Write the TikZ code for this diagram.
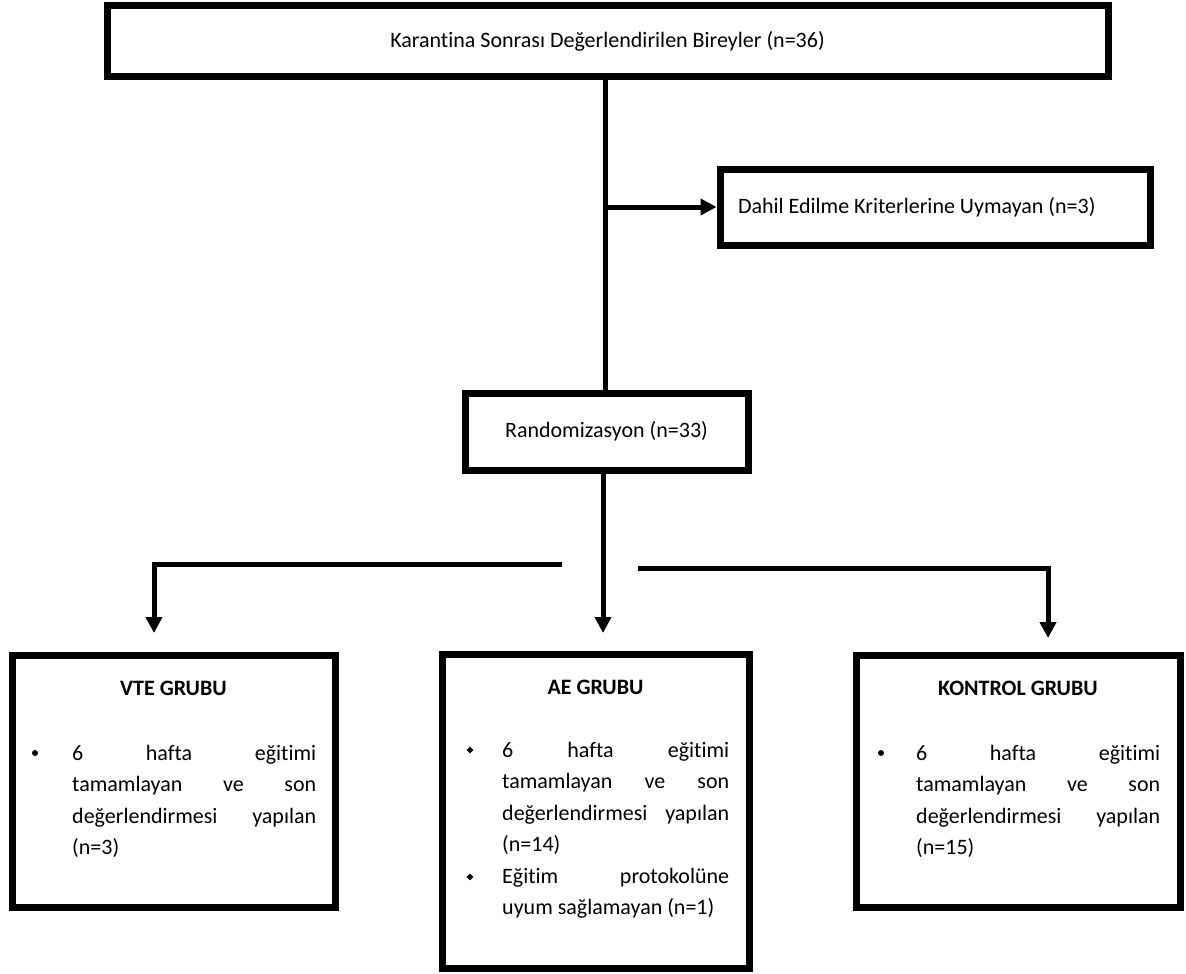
\documentclass[tikz,border=0pt]{standalone}
\usepackage{fontspec}
\setmainfont{Carlito}[Ligatures=NoCommon]
\usetikzlibrary{arrows.meta,shapes.geometric}

\tikzset{
  kutu/.style={draw, line width=7pt, inner sep=0pt, font=\fontsize{22}{31.5}\selectfont},
  cizgi/.style={line width=5pt},
  ok/.style={line width=5pt, -{Triangle[width=16pt,length=16pt]}},
  baslik/.style={font=\fontsize{22}{31.5}\selectfont\bfseries, inner sep=0pt, anchor=base},
  madde/.style={font=\fontsize{22}{31.5}\selectfont, inner sep=0pt, anchor=base west},
  nokta/.style={circle, fill, inner sep=0pt, minimum size=6pt},
  karo/.style={diamond, fill, inner sep=0pt, minimum size=7pt},
}

\begin{document}
\begin{tikzpicture}[x=1pt,y=-1pt]
        \useasboundingbox (0,0) rectangle (1186,974);
        % kutular
        \node[kutu, minimum width=1001pt, minimum height=71pt] (karantina) at (607.5,41.5) {Karantina Sonrası Değerlendirilen Bireyler (n=36)};
        \node[kutu, minimum width=430pt, minimum height=76pt, text width=394pt, inner xsep=18pt, align=flush left] (dahil) at (935,207) {Dahil Edilme Kriterlerine Uymayan (n=3)};
        \node[kutu, minimum width=283pt, minimum height=77pt] (randomizasyon) at (606.5,431.5) {Randomizasyon (n=33)};
        \node[kutu, minimum width=323pt, minimum height=252pt] (vte) at (173.5,781) {};
        \node[kutu, minimum width=307pt, minimum height=314pt] (ae) at (595.5,811) {};
        \node[kutu, minimum width=324pt, minimum height=252pt] (kontrol) at (1018,781) {};
        % gruplar
        \node[baslik] (vtebaslik) at (173.5,695) {VTE GRUBU};
        \node[nokta] (vtemadde) at (35,753) {};
        \node[madde] (vtemetin) at (72,760) {\parbox[t]{244pt}{\raggedright 6\hfill hafta\hfill eğitimi\\ tamamlayan\hfill ve\hfill son\\ değerlendirmesi\hfill yapılan\\ (n=3)}};
        \node[baslik] (aebaslik) at (595.5,694) {AE GRUBU};
        \node[karo] (aemadde1) at (470,750) {};
        \node[karo] (aemadde2) at (470,877) {};
        \node[madde] (aemetin) at (502,757) {\parbox[t]{227pt}{\raggedright 6\hfill hafta\hfill eğitimi\\ tamamlayan\hfill ve\hfill son\\ değerlendirmesi\hfill yapılan\\ (n=14)\\ Eğitim\hfill protokolüne\\ uyum sağlamayan (n=1)}};
        \node[baslik] (kontrolbaslik) at (1018,695) {KONTROL GRUBU};
        \node[nokta] (kontrolmadde) at (881,753) {};
        \node[madde] (kontrolmetin) at (916,760) {\parbox[t]{244pt}{\raggedright 6\hfill hafta\hfill eğitimi\\ tamamlayan\hfill ve\hfill son\\ değerlendirmesi\hfill yapılan\\ (n=15)}};
        % oklar
        \coordinate (dal) at (605,207);
        \coordinate (orta) at (603,600);
        \coordinate (solbas) at (562,564);
        \coordinate (solkose) at (154,564);
        \coordinate (sagbas) at (638,568);
        \coordinate (sagkose) at (1048,568);
        \draw[cizgi] (karantina.south -| dal) -- (randomizasyon.north -| dal);
        \draw[ok] (dal) -- (dahil.west);
        \draw[ok, shorten >=17.5pt] (randomizasyon.south -| orta) -- (ae.north -| orta);
        \draw[ok, shorten >=18.5pt] (solbas) -- (solkose) -- (solkose |- vte.north);
        \draw[ok, shorten >=13.5pt] (sagbas) -- (sagkose) -- (sagkose |- kontrol.north);
\end{tikzpicture}
\end{document}
